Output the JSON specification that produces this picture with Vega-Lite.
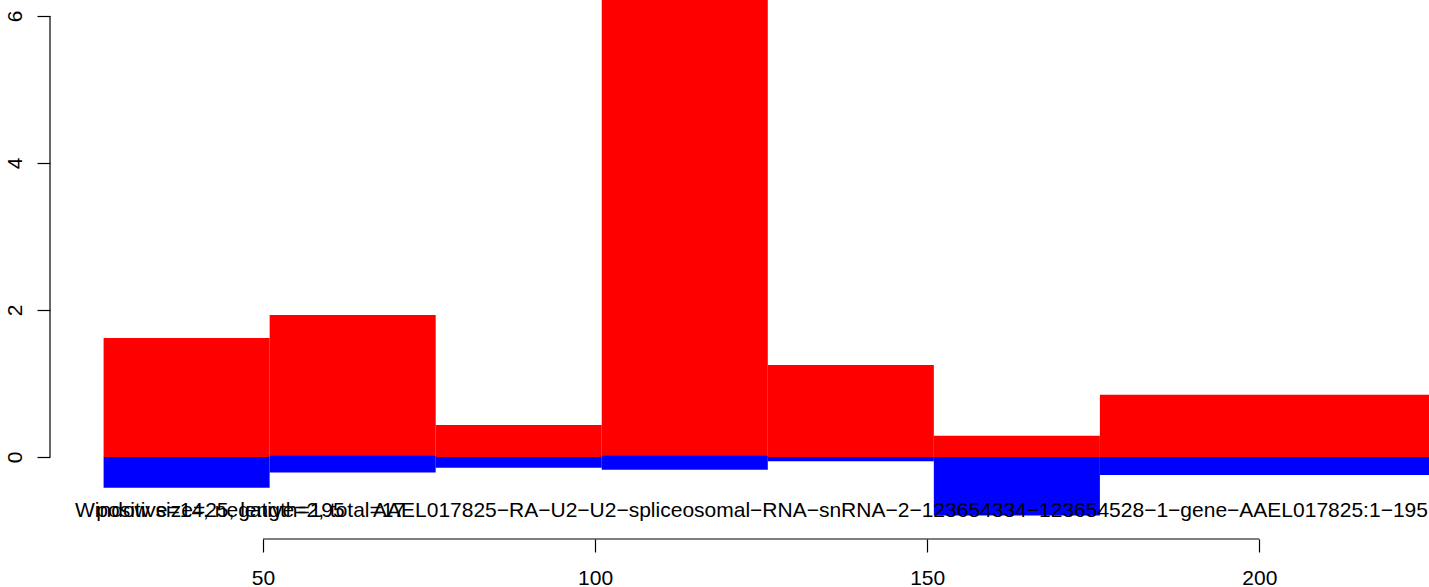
{
  "$schema": "https://vega.github.io/schema/vega-lite/v6.json",
  "width": 1379,
  "height": 539,
  "autosize": {"type": "none"},
  "padding": {"left": 50, "top": 0, "right": 0, "bottom": 48},
  "background": "white",
  "config": {"view": {"stroke": null}, "font": "Liberation Sans"},
  "datasets": {
    "bins": [
      {"start": 26, "end": 51, "pos": 1.619, "neg": -0.42, "negTop": 0},
      {"start": 51, "end": 76, "pos": 1.932, "neg": -0.21, "negTop": 0.018},
      {"start": 76, "end": 101, "pos": 0.435, "neg": -0.146, "negTop": 0},
      {"start": 101, "end": 126, "pos": 7.0, "neg": -0.173, "negTop": 0.018},
      {"start": 126, "end": 151, "pos": 1.252, "neg": -0.059, "negTop": 0},
      {"start": 151, "end": 176, "pos": 0.29, "neg": -0.797, "negTop": 0},
      {"start": 176, "end": 226, "pos": 0.848, "neg": -0.245, "negTop": 0}
    ],
    "one": [{"id": 1}]
  },
  "layer": [
    {
      "data": {"name": "bins"},
      "mark": {"type": "rect", "color": "#FF0000", "clip": true},
      "encoding": {
        "x": {
          "field": "start", "type": "quantitative", "title": null,
          "scale": {"domain": [17.93, 225.55], "nice": false, "zero": false},
          "axis": {
            "values": [50, 100, 150, 200], "format": "d", "domain": false, "grid": false,
            "tickSize": 13, "tickWidth": 1.2, "tickColor": "black",
            "labelFont": "Liberation Sans", "labelFontSize": 21, "labelColor": "black",
            "labelPadding": 32, "labelBaseline": "alphabetic", "labelFlush": false, "labelOverlap": false
          }
        },
        "x2": {"field": "end"},
        "y": {
          "field": "pos", "type": "quantitative", "title": null,
          "scale": {"domain": [-1.1156, 6.2177], "nice": false, "zero": false},
          "axis": {
            "values": [0, 2, 4, 6], "format": "d", "domain": false, "grid": false,
            "tickSize": 13, "tickWidth": 1.2, "tickColor": "black",
            "labelFont": "Liberation Sans", "labelFontSize": 21, "labelColor": "black",
            "labelAngle": -90, "labelAlign": "center", "labelBaseline": "alphabetic",
            "labelPadding": 15.5, "labelFlush": false, "labelOverlap": false
          }
        },
        "y2": {"datum": 0}
      }
    },
    {
      "data": {"name": "bins"},
      "mark": {"type": "rect", "color": "#0000FF", "clip": true},
      "encoding": {
        "x": {"field": "start", "type": "quantitative", "title": null},
        "x2": {"field": "end"},
        "y": {"field": "neg", "type": "quantitative", "title": null},
        "y2": {"field": "negTop"}
      }
    },
    {
      "data": {"name": "one"},
      "mark": {"type": "text", "text": "Window size=25, length=195", "align": "left", "baseline": "alphabetic", "font": "Liberation Sans", "fontSize": 21, "color": "black"},
      "encoding": {
        "x": {"datum": 21.7, "type": "quantitative", "title": null},
        "y": {"datum": -0.8095, "type": "quantitative", "title": null}
      }
    },
    {
      "data": {"name": "one"},
      "mark": {"type": "text", "text": "positive=14, negative=2, total=17", "align": "left", "baseline": "alphabetic", "font": "Liberation Sans", "fontSize": 21, "color": "black"},
      "encoding": {
        "x": {"datum": 24.9, "type": "quantitative", "title": null},
        "y": {"datum": -0.8095, "type": "quantitative", "title": null}
      }
    },
    {
      "data": {"name": "one"},
      "mark": {"type": "text", "text": "AAEL017825−RA−U2−U2−spliceosomal−RNA−snRNA−2−123654334−123654528−1−gene−AAEL017825:1−195", "align": "left", "baseline": "alphabetic", "font": "Liberation Sans", "fontSize": 21, "color": "black"},
      "encoding": {
        "x": {"datum": 66.56, "type": "quantitative", "title": null},
        "y": {"datum": -0.8095, "type": "quantitative", "title": null}
      }
    },
    {
      "data": {"name": "one"},
      "mark": {"type": "rule", "color": "black", "strokeWidth": 1.2},
      "encoding": {
        "x": {"datum": 17.93, "type": "quantitative", "title": null},
        "y": {"datum": 0, "type": "quantitative", "title": null},
        "y2": {"datum": 6}
      }
    },
    {
      "data": {"name": "one"},
      "mark": {"type": "rule", "color": "black", "strokeWidth": 1.2},
      "encoding": {
        "y": {"datum": -1.1156, "type": "quantitative", "title": null},
        "x": {"datum": 50, "type": "quantitative", "title": null},
        "x2": {"datum": 200}
      }
    }
  ]
}
